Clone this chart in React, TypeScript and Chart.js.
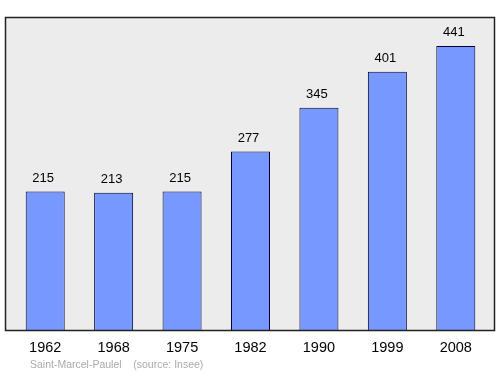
import React, { useEffect, useRef } from "react";
import { Chart, registerables } from "chart.js";

Chart.register(...registerables);

const years = ["1962", "1968", "1975", "1982", "1990", "1999", "2008"];
const population = [215, 213, 215, 277, 345, 401, 441];
const sourceText = "Saint-Marcel-Paulel    (source: Insee)";

export default function App() {
  const ref = useRef<HTMLCanvasElement | null>(null);
  useEffect(() => {
    const canvas = ref.current!;
    const deco = {
      id: "deco",
      beforeDraw(chart: any) {
        const { ctx, chartArea } = chart;
        const x0 = chartArea.left - 6;
        const x1 = chartArea.right + 5;
        const y0 = chartArea.top;
        const y1 = chartArea.bottom;
        ctx.save();
        ctx.fillStyle = "#ffffff";
        ctx.fillRect(0, 0, chart.width, chart.height);
        ctx.fillStyle = "#ececec";
        ctx.fillRect(x0, y0, x1 - x0, y1 - y0);
        ctx.restore();
      },
      afterDatasetsDraw(chart: any) {
        const { ctx, chartArea } = chart;
        const x0 = chartArea.left - 6;
        const x1 = chartArea.right + 5;
        const y0 = chartArea.top;
        const y1 = chartArea.bottom;
        ctx.save();
        ctx.strokeStyle = "#222222";
        ctx.lineWidth = 1.5;
        ctx.strokeRect(x0 + 0.5, y0 + 0.5, x1 - x0 - 1, y1 - y0);
        const meta = chart.getDatasetMeta(0);
        ctx.fillStyle = "#000000";
        ctx.textAlign = "center";
        ctx.textBaseline = "alphabetic";
        ctx.font = "13px 'Liberation Sans', Arial, sans-serif";
        meta.data.forEach((bar: any, i: number) => {
          ctx.fillText(String(population[i]), bar.x - 2, bar.y - 10);
        });
        ctx.font = "14.5px 'Liberation Sans', Arial, sans-serif";
        meta.data.forEach((bar: any, i: number) => {
          ctx.fillText(years[i], bar.x, y1 + 22);
        });
        ctx.textAlign = "left";
        ctx.fillStyle = "#aaaaaa";
        ctx.font = "10.5px 'Liberation Sans', Arial, sans-serif";
        ctx.fillText(sourceText, 30, 368);
        ctx.restore();
      },
    };
    const chart = new Chart(canvas, {
      type: "bar",
      data: {
        labels: years,
        datasets: [
          {
            data: population,
            backgroundColor: "#7799ff",
            borderColor: "#000033",
            borderWidth: 1,
            categoryPercentage: 1,
            barPercentage: 0.57,
          },
        ],
      },
      options: {
        animation: false,
        responsive: false,
        layout: { padding: { left: 11, right: 10, top: 17, bottom: 44 } },
        plugins: { legend: { display: false }, tooltip: { enabled: false } },
        scales: {
          x: { display: false, offset: true },
          y: { display: false, min: 0, max: 486 },
        },
      },
      plugins: [deco],
    });
    return () => chart.destroy();
  }, []);
  return (
    <div style={{ position: "absolute", left: 0, top: 0, width: 500, height: 374 }}>
      <canvas ref={ref} width={500} height={374} style={{ width: 500, height: 374 }} />
    </div>
  );
}
